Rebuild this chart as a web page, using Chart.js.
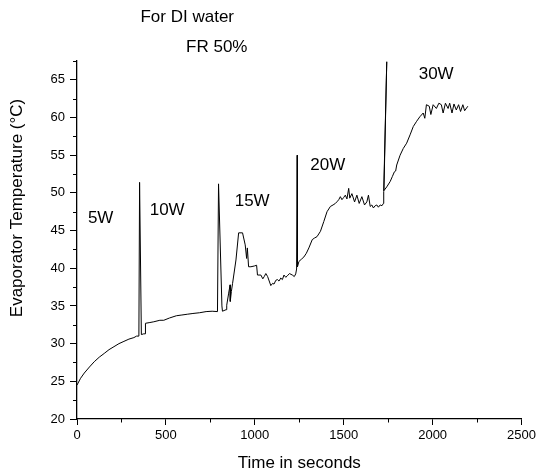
<!DOCTYPE html>
<html>
<head>
<meta charset="utf-8">
<title>Evaporator Temperature - DI water, FR 50%</title>
<script src="https://cdn.jsdelivr.net/npm/chart.js@4.4.0/dist/chart.umd.min.js"></script>
<style>
  html, body { margin: 0; padding: 0; background: #fff; }
  #evap-chart { display: block; }
</style>
</head>
<body>
<canvas id="evap-chart" width="539" height="475"></canvas>
<script>
// Time (s) and evaporator temperature (degC).
// The heater steps show up as short spikes, so some times go back a little.
const timeSeconds = [
    0, 20, 41, 70, 97, 125, 153, 180, 208, 236, 264, 292, 320, 335, 348,
    352, 362, 375, 383, 385, 410, 432, 466, 488, 520, 559, 590, 620, 652, 690,
    726, 760, 790, 796, 815, 818, 838, 842, 853, 861, 862, 868, 875, 894, 909,
    931, 946, 954, 958, 965, 978, 997, 1010, 1015, 1034, 1045, 1053, 1062, 1072, 1090,
    1100, 1108, 1118, 1127, 1136, 1146, 1155, 1164, 1174, 1183, 1195, 1211, 1222, 1230, 1235,
    1238, 1240, 1248, 1262, 1276, 1290, 1304, 1323, 1335, 1350, 1369, 1388, 1406, 1425, 1440,
    1453, 1465, 1472, 1481, 1490, 1500, 1509, 1518, 1528, 1534, 1546, 1561, 1574, 1587, 1602,
    1617, 1630, 1639, 1649, 1658, 1667, 1677, 1686, 1695, 1705, 1715, 1723, 1725, 1742, 1726,
    1742, 1761, 1774, 1785, 1792, 1798, 1817, 1835, 1854, 1873, 1891, 1910, 1928, 1947, 1956,
    1965, 1981, 1990, 2003, 2021, 2035, 2049, 2059, 2072, 2087, 2096, 2109, 2120, 2133, 2146,
    2157, 2170, 2180, 2198
];
const evapTemp = [
    24.5, 25.4, 26.1, 26.9, 27.6, 28.2, 28.7, 29.2, 29.6, 30.0, 30.3, 30.6, 30.8, 31.0, 31.0,
    51.4, 31.2, 31.3, 31.3, 32.7, 32.8, 32.9, 33.1, 33.1, 33.4, 33.7, 33.8, 33.9, 34.0, 34.1,
    34.25, 34.3, 34.25, 51.2, 35.0, 34.3, 34.5, 35.1, 36.7, 37.8, 35.6, 36.9, 38.0, 41.1, 44.7,
    44.7, 43.1, 41.3, 42.7, 40.2, 40.2, 40.3, 40.4, 39.1, 39.1, 38.6, 38.9, 39.3, 38.9, 37.7,
    38.0, 37.9, 38.4, 38.5, 38.3, 38.7, 38.5, 39.1, 38.8, 39.0, 39.3, 39.1, 38.9, 39.25, 39.9,
    55.0, 40.2, 40.9, 41.2, 41.5, 42.0, 42.7, 43.8, 44.0, 44.2, 44.9, 46.2, 47.5, 48.2, 48.4,
    48.6, 48.9, 49.1, 49.5, 49.1, 49.4, 49.7, 49.2, 50.6, 49.3, 49.9, 48.8, 49.7, 48.6, 49.5,
    48.4, 48.8, 49.7, 48.2, 48.4, 48.0, 48.3, 48.4, 48.1, 48.4, 48.3, 48.6, 50.2, 67.4, 50.3,
    50.8, 51.5, 52.2, 52.8, 52.9, 53.7, 55.0, 55.9, 56.6, 57.7, 58.8, 59.5, 60.1, 60.6, 59.9,
    61.7, 61.5, 60.4, 61.7, 61.2, 61.9, 61.7, 60.6, 61.9, 61.2, 61.9, 60.6, 61.8, 61.0, 61.7,
    60.8, 61.7, 60.9, 61.5
];

// Heat load labels and the point (time, temp) each one is centred on
const powerLabels = ['5W', '10W', '15W', '20W', '30W'];
const powerLabelTime = [133, 507, 985, 1410, 2020];
const powerLabelTemp = [46.6, 47.7, 48.9, 53.7, 65.7];

// Axis ticks
const xMajorTicks = [0, 500, 1000, 1500, 2000, 2500];
const xMinorTicks = [250, 750, 1250, 1750, 2250];
const yMajorTicks = [20, 25, 30, 35, 40, 45, 50, 55, 60, 65];
const yMinorTicks = [22.5, 27.5, 32.5, 37.5, 42.5, 47.5, 52.5, 57.5, 62.5, 67.5];

const FONT_FAMILY = 'Arial, "Liberation Sans", Helvetica, sans-serif';

// Minor ticks, heat load labels and the free text around the plot
const annotationPlugin = {
    id: 'annotations',
    afterDraw(chart) {
        const ctx = chart.ctx;
        const xScale = chart.scales.x;
        const yScale = chart.scales.y;
        const area = chart.chartArea;

        ctx.save();

        // minor ticks (shorter than the major ones)
        ctx.strokeStyle = '#000';
        ctx.lineWidth = 1;
        ctx.beginPath();
        xMinorTicks.forEach(function(v) {
            const px = Math.round(xScale.getPixelForValue(v)) + 0.5;
            ctx.moveTo(px, area.bottom);
            ctx.lineTo(px, area.bottom + 3.5);
        });
        yMinorTicks.forEach(function(v) {
            const py = Math.round(yScale.getPixelForValue(v)) + 0.5;
            ctx.moveTo(area.left - 4, py);
            ctx.lineTo(area.left, py);
        });
        ctx.stroke();

        ctx.fillStyle = '#000';
        ctx.font = '17px ' + FONT_FAMILY;
        ctx.textAlign = 'center';
        ctx.textBaseline = 'middle';

        powerLabels.forEach(function(text, i) {
            ctx.fillText(text,
                xScale.getPixelForValue(powerLabelTime[i]),
                yScale.getPixelForValue(powerLabelTemp[i]));
        });

        // titles above the plot
        ctx.fillText('For DI water', xScale.getPixelForValue(620), area.top - 44);
        ctx.fillText('FR 50%', xScale.getPixelForValue(786), area.top - 14);

        // y axis title (sits a bit above the middle of the axis)
        ctx.translate(17, yScale.getPixelForValue(48));
        ctx.rotate(-Math.PI / 2);
        ctx.fillText('Evaporator Temperature (°C)', 0, 0);

        ctx.restore();
    }
};

// plain numbers on the axes, no thousands separator
const plainNumber = function(value) {
    return String(value);
};

const ctx = document.getElementById('evap-chart').getContext('2d');
const evapChart = new Chart(ctx, {
    type: 'line',
    data: {
        datasets: [{
            label: 'Evaporator temperature',
            data: timeSeconds.map(function(t, i) { return { x: t, y: evapTemp[i] }; }),
            borderColor: '#000',
            borderWidth: 1,
            pointRadius: 0,
            tension: 0,
            fill: false
        }]
    },
    options: {
        responsive: false,
        animation: false,
        devicePixelRatio: 1,
        layout: {
            padding: { top: 61, right: 15, left: 0, bottom: 0 }
        },
        plugins: {
            legend: { display: false },
            tooltip: { enabled: false }
        },
        scales: {
            x: {
                type: 'linear',
                min: 0,
                max: 2500,
                afterBuildTicks: function(scale) {
                    scale.ticks = xMajorTicks.map(function(v) { return { value: v }; });
                },
                afterFit: function(scale) { scale.height = 56; },
                grid: {
                    drawOnChartArea: false,
                    drawTicks: true,
                    tickLength: 6,
                    tickColor: '#000',
                    tickWidth: 1
                },
                border: { display: true, color: '#000', width: 1.3 },
                ticks: {
                    color: '#000',
                    padding: 3,
                    maxRotation: 0,
                    callback: plainNumber,
                    font: { family: FONT_FAMILY, size: 13 }
                },
                title: {
                    display: true,
                    text: 'Time in seconds',
                    color: '#000',
                    padding: { top: 0, bottom: 1 },
                    font: { family: FONT_FAMILY, size: 17 }
                }
            },
            y: {
                type: 'linear',
                min: 20,
                max: 67.5,
                afterBuildTicks: function(scale) {
                    scale.ticks = yMajorTicks.map(function(v) { return { value: v }; });
                },
                afterFit: function(scale) { scale.width = 77; },
                grid: {
                    drawOnChartArea: false,
                    drawTicks: true,
                    tickLength: 7,
                    tickColor: '#000',
                    tickWidth: 1
                },
                border: { display: true, color: '#000', width: 1.3 },
                ticks: {
                    color: '#000',
                    padding: 5,
                    callback: plainNumber,
                    font: { family: FONT_FAMILY, size: 13 }
                }
            }
        }
    },
    plugins: [annotationPlugin]
});
</script>
</body>
</html>
